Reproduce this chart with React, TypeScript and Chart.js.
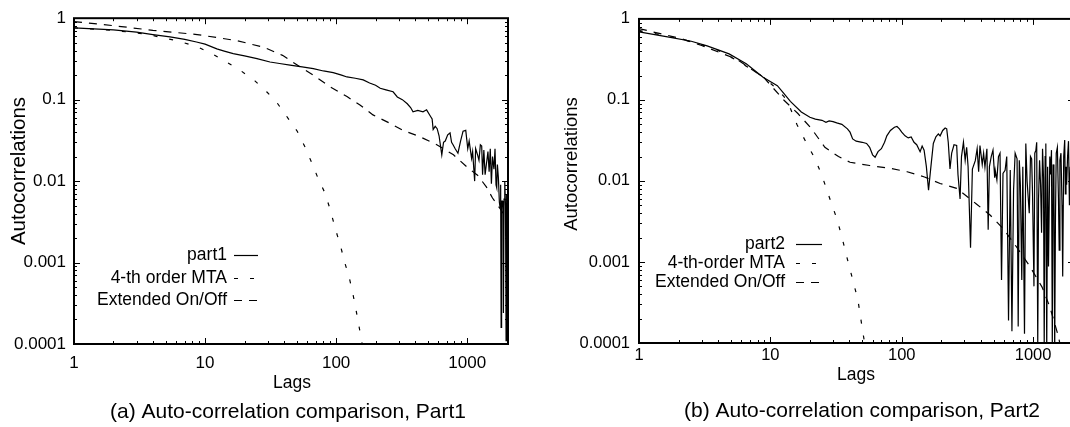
import React, { useEffect, useRef } from "react";
import { Chart, registerables } from "chart.js";

Chart.register(...registerables);

const FONT = '"Liberation Sans", Arial, Helvetica, sans-serif';
const H = 427;

// ---------- Panel (a): Part1 ----------
const part1Lags = [
  1, 2, 3, 4, 5.4, 7, 8.6, 10, 12.3, 14,
  16.4, 20, 24.9, 31.3, 37, 44.5, 55, 67, 80, 95,
  110, 121, 140, 161, 180, 200, 217, 240, 272, 293,
  320, 349, 370, 386, 420, 460, 490, 520, 540, 550,
  570, 590, 610, 640, 660, 680, 710, 740, 760, 780,
  810, 850, 890, 930, 975, 1010, 1035, 1080, 1100, 1140,
  1160, 1200, 1230, 1260, 1290, 1310, 1340, 1370, 1400, 1440,
  1470, 1500, 1530, 1560, 1600, 1630, 1660, 1680, 1700, 1730,
  1760, 1780, 1800, 1815, 1830, 1860, 1875, 1890, 1910, 1935,
  1960, 1980, 2000, 2020, 2035, 2048,
];
const part1Vals = [
  0.76, 0.72, 0.675, 0.63, 0.59, 0.55, 0.51, 0.48, 0.42, 0.395,
  0.367, 0.345, 0.319, 0.29, 0.278, 0.265, 0.252, 0.24, 0.225, 0.215,
  0.2, 0.19, 0.183, 0.175, 0.16, 0.15, 0.138, 0.132, 0.125, 0.108,
  0.1, 0.089, 0.08, 0.071, 0.074, 0.071, 0.075, 0.064, 0.058, 0.043,
  0.047, 0.044, 0.036, 0.021, 0.03, 0.031, 0.037, 0.039, 0.03, 0.028,
  0.025, 0.022, 0.031, 0.041, 0.042, 0.025, 0.031, 0.019, 0.023, 0.01,
  0.025, 0.021, 0.018, 0.028, 0.027, 0.012, 0.024, 0.012, 0.016, 0.023,
  0.013, 0.025, 0.0093, 0.02, 0.014, 0.025, 0.009, 0.0083, 0.016, 0.011,
  0.0055, 0.0048, 0.009, 0.00016, 0.0057, 0.0057, 0.0045, 0.00024, 0.006, 0.0099,
  0.005, 0.00011, 0.0068, 0.0045, 0.0069, 0.009,
];
const mta1Lags = [1, 2, 3.6, 6.2, 8.6, 11.2, 14, 18.5, 24, 29.5, 35, 43, 50.5, 58, 66, 72.5, 82, 90, 98.6, 108, 117, 126, 134, 142, 150, 158, 165];
const mta1Vals = [0.76, 0.71, 0.635, 0.525, 0.45, 0.37, 0.3, 0.23, 0.17, 0.125, 0.094, 0.059, 0.041, 0.026, 0.016, 0.011, 0.0072, 0.0045, 0.0026, 0.0016, 0.00097, 0.00065, 0.00042, 0.00026, 0.00016, 0.0001, 0.00007];
const ext1Lags = [1, 2, 4, 8.7, 17.5, 28, 39, 53, 67, 90, 121, 152, 191, 259, 324, 437, 586, 786, 1000, 1200, 1400, 1560, 1800, 2048];
const ext1Vals = [0.91, 0.81, 0.71, 0.63, 0.53, 0.44, 0.35, 0.253, 0.2, 0.144, 0.109, 0.086, 0.065, 0.051, 0.042, 0.035, 0.028, 0.021, 0.0148, 0.0118, 0.0085, 0.0062, 0.0045, 0.0032];

// ---------- Panel (b): Part2 ----------
const part2Lags = [
  1, 1.65, 2.5, 3.3, 4.85, 6.55, 8.8, 11.3, 12.7, 14.2,
  17.2, 20, 22, 24.7, 26.5, 28, 30, 32, 35, 38.6,
  40.4, 42.3, 45, 50, 54, 57, 60, 62.7, 66, 70,
  74, 77, 82, 88, 92, 96, 100, 106, 112, 118,
  124, 130, 138, 143, 148, 154, 160, 166, 174, 182,
  190, 196, 205, 214, 220, 226, 233, 240, 250, 262,
  268, 278, 285, 295, 304, 312, 320, 334, 345, 363,
  375, 385, 394, 410, 420, 430, 445, 455, 465, 480,
  495, 510, 515, 530, 545, 560, 575, 590, 612, 630,
  650, 670, 690, 710, 730, 755, 770, 785, 800, 820,
  835, 860, 880, 900, 935, 955, 975, 990, 1015, 1030,
  1050, 1065, 1085, 1100, 1120, 1140, 1160, 1180, 1200, 1215,
  1235, 1250, 1270, 1290, 1310, 1340, 1360, 1380, 1400, 1420,
  1440, 1460, 1480, 1500, 1530, 1560, 1580, 1600, 1630, 1660,
  1680, 1710, 1740, 1760, 1780, 1800, 1830, 1860, 1890, 1920,
  1960, 2000, 2048,
];
const part2Vals = [
  0.69, 0.6, 0.53, 0.465, 0.37, 0.28, 0.19, 0.15, 0.12, 0.096,
  0.071, 0.061, 0.058, 0.056, 0.053, 0.055, 0.054, 0.052, 0.05, 0.044,
  0.04, 0.033, 0.031, 0.03, 0.029, 0.026, 0.021, 0.0196, 0.023, 0.025,
  0.03, 0.036, 0.042, 0.046, 0.047, 0.044, 0.04, 0.036, 0.034, 0.035,
  0.03, 0.028, 0.023, 0.027, 0.024, 0.015, 0.0077, 0.014, 0.029, 0.035,
  0.038, 0.036, 0.042, 0.045, 0.044, 0.03, 0.0141, 0.022, 0.028, 0.0274,
  0.012, 0.006, 0.02, 0.03, 0.018, 0.026, 0.015, 0.0015, 0.014, 0.0178,
  0.025, 0.013, 0.0274, 0.016, 0.022, 0.0148, 0.025, 0.0025, 0.015, 0.02,
  0.024, 0.011, 0.0135, 0.0103, 0.02, 0.022, 0.0006, 0.0124, 0.0135, 0.02,
  0.00019, 0.0136, 0.00014, 0.0077, 0.022, 0.0187, 0.00016, 0.018, 0.009, 0.0006,
  0.015, 0.00013, 0.029, 0.01, 0.004, 0.02, 0.0187, 0.007, 0.0005, 0.022,
  0.024, 0.03, 0.0001, 0.006, 0.018, 0.009, 0.0023, 0.025, 0.011, 0.00009,
  0.02, 0.029, 0.00008, 0.015, 0.00088, 0.02, 0.012, 0.024, 0.0001, 0.016,
  0.0124, 0.00008, 0.0036, 0.022, 0.026, 0.006, 0.0014, 0.018, 0.022, 0.005,
  0.00066, 0.02, 0.032, 0.0069, 0.015, 0.009, 0.02, 0.031, 0.005, 0.015,
  0.0003, 0.012, 0.008,
];
const mta2Lags = [1, 2, 3, 4, 5.5, 7, 8.9, 11, 12.7, 14.1, 15.9, 18.9, 21.8, 23.8, 25.4, 28.6, 32.3, 35.4, 38.7, 42.4, 46.4, 50.8, 55];
const mta2Vals = [0.72, 0.575, 0.48, 0.41, 0.31, 0.245, 0.19, 0.14, 0.11, 0.081, 0.05, 0.029, 0.019, 0.0135, 0.0102, 0.0058, 0.0033, 0.0019, 0.00106, 0.0006, 0.00034, 0.00013, 0.00006];
const ext2Lags = [1, 2.1, 3, 5.5, 8.9, 12.7, 16.2, 20.6, 26, 33, 40.4, 57, 82, 110, 149, 196, 262, 370, 470, 590, 755, 950, 1170, 1340, 1560, 1700];
const ext2Vals = [0.76, 0.57, 0.47, 0.32, 0.19, 0.099, 0.068, 0.044, 0.026, 0.02, 0.017, 0.0155, 0.0143, 0.013, 0.0112, 0.0093, 0.0081, 0.0052, 0.0038, 0.0026, 0.0015, 0.00087, 0.00049, 0.00028, 0.00012, 0.00006];

// ---------- Axes & labels ----------
const xTickValues = [1, 10, 100, 1000];
const yTickValues = [0.0001, 0.001, 0.01, 0.1, 1];
const X_MIN = 1;
const X_MAX = 2048;
const Y_MIN = 0.0001;
const Y_MAX = 1;

const legendA = ["part1", "4-th order MTA", "Extended On/Off"];
const legendB = ["part2", "4-th-order MTA", "Extended On/Off"];
const captionA = "(a) Auto-correlation comparison, Part1";
const captionB = "(b) Auto-correlation comparison, Part2";
const xTitleText = "Lags";
const yTitleText = "Autocorrelations";

const STYLES = [
  { dash: [] as number[], width: 1.2 },
  { dash: [4, 12], width: 1.2 },
  { dash: [8, 7], width: 1.2 },
];

function pts(lags: number[], vals: number[]) {
  return lags.map((x, i) => ({ x, y: vals[i] }));
}

type Series = { lags: number[]; vals: number[] };
type PanelCfg = {
  canvasLeft: number;
  canvasWidth: number;
  plotLeft: number;
  plotRight: number;
  plotTop: number;
  plotBottom: number;
  tickSize: number;
  xTickPad: number;
  yTickPad: number;
  yTitle: { x: number; y: number; size: number };
  xTitle: { x: number; y: number; size: number };
  caption: { x: number; y: number; size: number; text: string };
  legend: { textRight: number; lineStart: number; lineEnd: number; rows: number[]; size: number; labels: string[] };
  series: Series[];
};

const panelA: PanelCfg = {
  canvasLeft: 0,
  canvasWidth: 540,
  plotLeft: 74,
  plotRight: 508,
  plotTop: 16,
  plotBottom: 344,
  tickSize: 17,
  xTickPad: 9,
  yTickPad: 8,
  yTitle: { x: 19.5, y: 171, size: 20.5 },
  xTitle: { x: 292, y: 383, size: 17.5 },
  caption: { x: 288, y: 412, size: 21, text: captionA },
  legend: { textRight: 227, lineStart: 234, lineEnd: 258, rows: [255, 278, 300], size: 17.5, labels: legendA },
  series: [
    { lags: part1Lags, vals: part1Vals },
    { lags: mta1Lags, vals: mta1Vals },
    { lags: ext1Lags, vals: ext1Vals },
  ],
};

const panelB: PanelCfg = {
  canvasLeft: 540,
  canvasWidth: 560,
  plotLeft: 639,
  plotRight: 1074,
  plotTop: 18,
  plotBottom: 343,
  tickSize: 16.5,
  xTickPad: 3,
  yTickPad: 9,
  yTitle: { x: 572, y: 164, size: 18.5 },
  xTitle: { x: 856, y: 375, size: 17.5 },
  caption: { x: 862, y: 411, size: 21, text: captionB },
  legend: { textRight: 785, lineStart: 796, lineEnd: 822, rows: [244, 263, 282], size: 17.5, labels: legendB },
  series: [
    { lags: part2Lags, vals: part2Vals },
    { lags: mta2Lags, vals: mta2Vals },
    { lags: ext2Lags, vals: ext2Vals },
  ],
};

function makeOverlay(cfg: PanelCfg) {
  return {
    id: "overlay",
    afterDatasetsDraw(chart: any) {
      const { ctx, chartArea: a } = chart;
      const xs = chart.scales.x;
      const ys = chart.scales.y;
      const off = cfg.canvasLeft;
      ctx.save();
      ctx.setLineDash([]);
      ctx.strokeStyle = "#000";
      ctx.lineWidth = 1;
      ctx.beginPath();
      for (let k = 0; k <= 3; k++) {
        for (let m = 1; m <= 9; m++) {
          const v = m * Math.pow(10, k);
          if (v <= X_MIN || v >= X_MAX) continue;
          const px = Math.round(xs.getPixelForValue(v)) + 0.5;
          const len = m === 1 ? 6 : 3;
          ctx.moveTo(px, a.bottom);
          ctx.lineTo(px, a.bottom - len);
          ctx.moveTo(px, a.top);
          ctx.lineTo(px, a.top + len);
        }
      }
      for (let k = -4; k <= -1; k++) {
        for (let m = 1; m <= 9; m++) {
          const v = m * Math.pow(10, k);
          if (v <= Y_MIN * 1.0001 || v >= Y_MAX * 0.9999) continue;
          const py = Math.round(ys.getPixelForValue(v)) + 0.5;
          const len = m === 1 ? 6 : 3;
          ctx.moveTo(a.left, py);
          ctx.lineTo(a.left + len, py);
          ctx.moveTo(a.right, py);
          ctx.lineTo(a.right - len, py);
        }
      }
      ctx.stroke();
      ctx.lineWidth = 2;
      ctx.strokeRect(a.left, a.top, a.right - a.left, a.bottom - a.top);

      ctx.fillStyle = "#000";
      ctx.textBaseline = "middle";

      // Legend
      const lg = cfg.legend;
      ctx.font = `${lg.size}px ${FONT}`;
      lg.labels.forEach((label, i) => {
        const y = lg.rows[i];
        ctx.textAlign = "right";
        ctx.fillText(label, lg.textRight - off, y);
        ctx.beginPath();
        ctx.lineWidth = STYLES[i].width;
        ctx.setLineDash(STYLES[i].dash);
        ctx.moveTo(lg.lineStart - off, y + 0.5);
        ctx.lineTo(lg.lineEnd - off, y + 0.5);
        ctx.stroke();
      });
      ctx.setLineDash([]);

      // Axis titles
      ctx.textAlign = "center";
      ctx.font = `${cfg.xTitle.size}px ${FONT}`;
      ctx.fillText(xTitleText, cfg.xTitle.x - off, cfg.xTitle.y);

      ctx.save();
      ctx.translate(cfg.yTitle.x - off, cfg.yTitle.y);
      ctx.rotate(-Math.PI / 2);
      ctx.font = `${cfg.yTitle.size}px ${FONT}`;
      ctx.fillText(yTitleText, 0, 0);
      ctx.restore();

      // Caption
      ctx.font = `${cfg.caption.size}px ${FONT}`;
      ctx.textAlign = "center";
      ctx.fillText(cfg.caption.text, cfg.caption.x - off, cfg.caption.y);

      ctx.restore();
    },
  };
}

function Panel({ cfg }: { cfg: PanelCfg }) {
  const ref = useRef<HTMLCanvasElement>(null);
  useEffect(() => {
    const canvas = ref.current;
    if (!canvas) return;
    const chart = new Chart(canvas, {
      type: "line",
      data: {
        datasets: cfg.series.map((s, i) => ({
          label: cfg.legend.labels[i],
          data: pts(s.lags, s.vals),
          borderColor: "#000",
          backgroundColor: "#000",
          borderWidth: STYLES[i].width,
          borderDash: STYLES[i].dash,
          pointRadius: 0,
          fill: false,
          tension: 0,
        })),
      },
      options: {
        animation: false,
        responsive: false,
        maintainAspectRatio: false,
        devicePixelRatio: 1,
        events: [],
        layout: {
          padding: {
            left: 0,
            top: cfg.plotTop,
            right: cfg.canvasWidth - (cfg.plotRight - cfg.canvasLeft),
            bottom: 0,
          },
        },
        plugins: {
          legend: { display: false },
          tooltip: { enabled: false },
          title: { display: false },
        },
        scales: {
          x: {
            type: "logarithmic",
            min: X_MIN,
            max: X_MAX,
            grid: { display: false, drawTicks: false },
            border: { display: false },
            afterBuildTicks: (s: any) => {
              s.ticks = xTickValues.map((v) => ({ value: v }));
            },
            afterFit: (s: any) => {
              s.height = H - cfg.plotBottom;
            },
            ticks: {
              autoSkip: false,
              maxRotation: 0,
              minRotation: 0,
              padding: cfg.xTickPad,
              color: "#000",
              font: { family: FONT, size: cfg.tickSize },
              callback: (v: any) => String(v),
            },
          },
          y: {
            type: "logarithmic",
            min: Y_MIN,
            max: Y_MAX,
            grid: { display: false, drawTicks: false },
            border: { display: false },
            afterBuildTicks: (s: any) => {
              s.ticks = yTickValues.map((v) => ({ value: v }));
            },
            afterFit: (s: any) => {
              s.width = cfg.plotLeft - cfg.canvasLeft;
            },
            ticks: {
              autoSkip: false,
              padding: cfg.yTickPad,
              color: "#000",
              font: { family: FONT, size: cfg.tickSize },
              callback: (v: any) => String(v),
            },
          },
        },
      } as any,
      plugins: [makeOverlay(cfg)],
    });
    return () => chart.destroy();
  }, [cfg]);
  return (
    <canvas
      ref={ref}
      width={cfg.canvasWidth}
      height={H}
      style={{ position: "absolute", left: cfg.canvasLeft, top: 0, width: cfg.canvasWidth, height: H }}
    />
  );
}

export default function App() {
  return (
    <div
      style={{
        position: "fixed",
        left: 0,
        top: 0,
        width: 1070,
        height: H,
        overflow: "hidden",
        background: "#fff",
      }}
    >
      <Panel cfg={panelA} />
      <Panel cfg={panelB} />
    </div>
  );
}
